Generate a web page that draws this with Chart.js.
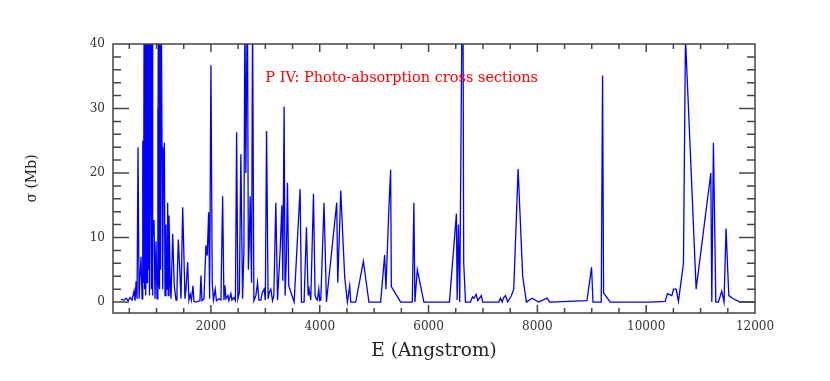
<!DOCTYPE html>
<html>
<head>
<meta charset="utf-8">
<script src="https://cdn.jsdelivr.net/npm/chart.js@4"></script>
<style>
  html, body { margin: 0; padding: 0; background: #fff; }
  canvas { display: block; }
</style>
</head>
<body>
<canvas id="sigmaChart" width="830" height="381"></canvas>
<script>
// P IV photo-absorption cross section
const energy = [
    348, 403, 440, 477, 514, 550, 587, 606, 624, 642, 660, 679, 697, 716, 734, 747, 762, 771, 777, 784,
    791, 799, 803, 808, 815, 821, 827, 832, 838, 845, 851, 857, 862, 868, 874, 881, 887, 893, 899, 904,
    910, 917, 925, 935, 954, 972, 991, 1009, 1022, 1027, 1033, 1040, 1046, 1052, 1059, 1064, 1070, 1077, 1083, 1090,
    1101, 1114, 1125, 1144, 1156, 1174, 1193, 1205, 1216, 1229, 1253, 1266, 1297, 1326, 1358, 1376, 1400, 1437, 1450,
    1481, 1499, 1523, 1542, 1572, 1596, 1620, 1642, 1670, 1688, 1725, 1798, 1817, 1835, 1872, 1908, 1932, 1958, 1976, 2000,
    2024, 2046, 2079, 2101, 2147, 2184, 2215, 2239, 2257, 2275, 2312, 2330, 2367, 2385, 2422, 2450, 2472, 2495, 2523, 2550,
    2581, 2606, 2624, 2642, 2670, 2688, 2703, 2721, 2747, 2765, 2789, 2826, 2857, 2881, 2917, 2945, 2978, 3000, 3022, 3051,
    3073, 3101, 3132, 3156, 3193, 3224, 3272, 3303, 3321, 3345, 3363, 3385, 3407, 3431, 3529, 3639, 3664, 3712, 3756, 3786,
    3804, 3835, 3885, 3914, 3936, 3958, 3982, 4000, 4019, 4079, 4123, 4312, 4331, 4367, 4386, 4428, 4459, 4508, 4551, 4569,
    4661, 4802, 4904, 5119, 5193, 5217, 5272, 5303, 5316, 5487, 5701, 5730, 5749, 5793, 5914, 6384, 6512, 6525, 6549, 6573,
    6628, 6646, 6679, 6771, 6808, 6832, 6876, 6905, 6936, 6968, 6997, 7290, 7322, 7353, 7377, 7413, 7455, 7523, 7566, 7646,
    7730, 7798, 7903, 8024, 8178, 8226, 8912, 8996, 9022, 9174, 9198, 9217, 9340, 10074, 10349, 10391, 10441, 10472, 10502, 10551,
    10593, 10685, 10722, 10918, 11188, 11206, 11236, 11280, 11327, 11389, 11431, 11468, 11518, 11602, 11725, 12000
];
const sigma = [
    0.4, 0.3, 0.6, 0.2, 0.7, 0.3, 1.7, 0.2, 3.2, 0.5, 24, 0.5, 4, 7, 0.5, 25, 3, 45, 30, 2,
    40, 50, 1, 8, 35, 55, 3, 15, 42, 60, 10, 5, 45, 48, 1, 20, 38, 52, 25, 2,
    40, 45, 1, 10, 12.7, 0.5, 9.4, 0.5, 30, 3, 50, 45, 3, 2, 55, 40, 8, 5, 45, 42,
    24, 2, 20, 24.7, 1, 12, 2, 15.4, 1, 13.4, 2.5, 0.5, 10.6, 2.5, 0.3, 2, 9.7, 3.2, 0.5,
    14.7, 8.7, 0.5, 2, 6.2, 0.3, 1.2, 0.3, 2.5, 0.1, 0, 0.2, 4.1, 0.2, 0.5, 8.8, 7.2, 13.9, 0.5, 36.7,
    3, 0.3, 2, 0.2, 0.5, 0.3, 16.4, 0.3, 2.6, 0.5, 1, 0.2, 1.3, 0.3, 0.7, 0.2, 26.3, 0.5, 1.5, 22.9,
    0.5, 8, 45, 20, 50, 5, 8.7, 16.4, 3, 45, 0.2, 1, 3, 0.3, 0.3, 1.5, 2, 0.3, 26.5, 0.5,
    1.5, 2, 0.2, 1, 15.4, 0.3, 8, 15, 3.3, 30.3, 1, 6, 18.5, 2.5, 0, 17.5, 0, 0, 11.6, 1,
    2, 0.3, 16.8, 1, 0.5, 0.3, 2, 0.2, 0.3, 15.4, 0, 15.4, 3, 12, 17.3, 9.4, 3.8, 0, 2.5, 0,
    0, 6.3, 0, 0, 7.3, 2, 14.8, 20.5, 2.4, 0, 0, 15.4, 0, 5, 0, 0, 13.7, 0.3, 12, 0,
    60, 6.1, 0, 0, 0.8, 0.6, 1.2, 0.2, 0.6, 1, 0, 0, 0.6, 0, 0.6, 1, 0, 1, 2, 20.6,
    4, 0, 0.6, 0, 0.6, 0, 0.2, 5.4, 0, 0, 35.1, 1.4, 0, 0, 0.1, 1.3, 1.1, 1, 2, 2,
    0.1, 6, 41, 2, 20, 0, 24.7, 0, 0, 1.7, 0, 11.4, 1, 0.5, 0, 0
];
const xTickLabels = [2000, 4000, 6000, 8000, 10000, 12000];
const yTickLabels = [0, 10, 20, 30, 40];
const chartNote = 'P IV: Photo-absorption cross sections';

const serif = 'DejaVu Serif';

// box around the plot with inward tick marks, plus the red note
const framePlugin = {
    id: 'frame',
    afterDatasetsDraw(chart) {
        const { ctx, chartArea: a, scales: { x, y } } = chart;
        ctx.save();
        ctx.strokeStyle = '#444';
        ctx.lineWidth = 1.5;
        ctx.strokeRect(a.left, a.top, a.right - a.left, a.bottom - a.top);
        ctx.beginPath();
        for (let v = 500; v < 12000; v += 500) {
            const px = x.getPixelForValue(v);
            const len = v % 2000 === 0 ? 8 : 5;
            ctx.moveTo(px, a.bottom); ctx.lineTo(px, a.bottom - len);
            ctx.moveTo(px, a.top); ctx.lineTo(px, a.top + len);
        }
        for (let v = 0; v < 40; v += 2) {
            const py = y.getPixelForValue(v);
            const len = v % 10 === 0 ? 16 : 8;
            ctx.moveTo(a.left, py); ctx.lineTo(a.left + len, py);
            ctx.moveTo(a.right, py); ctx.lineTo(a.right - len, py);
        }
        ctx.stroke();

        ctx.fillStyle = '#ff0000';
        ctx.font = '14.5px "' + serif + '"';
        ctx.textBaseline = 'middle';
        ctx.fillText(chartNote, x.getPixelForValue(3000), y.getPixelForValue(34.7));
        ctx.restore();
    }
};

new Chart(document.getElementById('sigmaChart'), {
    type: 'line',
    data: {
        datasets: [{
            data: energy.map((e, i) => ({ x: e, y: sigma[i] })),
            borderColor: '#0000ff',
            borderWidth: 1.3,
            pointRadius: 0,
            tension: 0,
            fill: false
        }]
    },
    options: {
        responsive: false,
        animation: false,
        devicePixelRatio: 1,
        layout: { padding: { top: 44, right: 75, bottom: 0, left: 0 } },
        plugins: { legend: { display: false }, tooltip: { enabled: false } },
        scales: {
            x: {
                type: 'linear',
                min: 200,
                max: 12000,
                afterFit(s) { s.height = 68; },
                afterBuildTicks(s) { s.ticks = xTickLabels.map(v => ({ value: v })); },
                grid: { display: false, drawTicks: false },
                border: { display: false },
                ticks: {
                    padding: 7,
                    color: '#333',
                    maxRotation: 0,
                    autoSkip: false,
                    font: { family: serif, size: 12 },
                    callback: v => String(v)
                },
                title: {
                    display: true,
                    text: 'E (Angstrom)',
                    color: '#222',
                    font: { family: serif, size: 18.5 },
                    padding: { top: 0, bottom: 19 }
                }
            },
            y: {
                min: -1.7,
                max: 40,
                afterFit(s) { s.width = 113; },
                afterBuildTicks(s) { s.ticks = yTickLabels.map(v => ({ value: v })); },
                grid: { display: false, drawTicks: false },
                border: { display: false },
                ticks: {
                    padding: 8,
                    color: '#333',
                    font: { family: serif, size: 12 },
                    callback: v => String(v)
                },
                title: {
                    display: true,
                    text: 'σ (Mb)',
                    color: '#222',
                    font: { family: serif, size: 14 },
                    padding: { top: 24, bottom: 0 }
                }
            }
        }
    },
    plugins: [framePlugin]
});
</script>
</body>
</html>
